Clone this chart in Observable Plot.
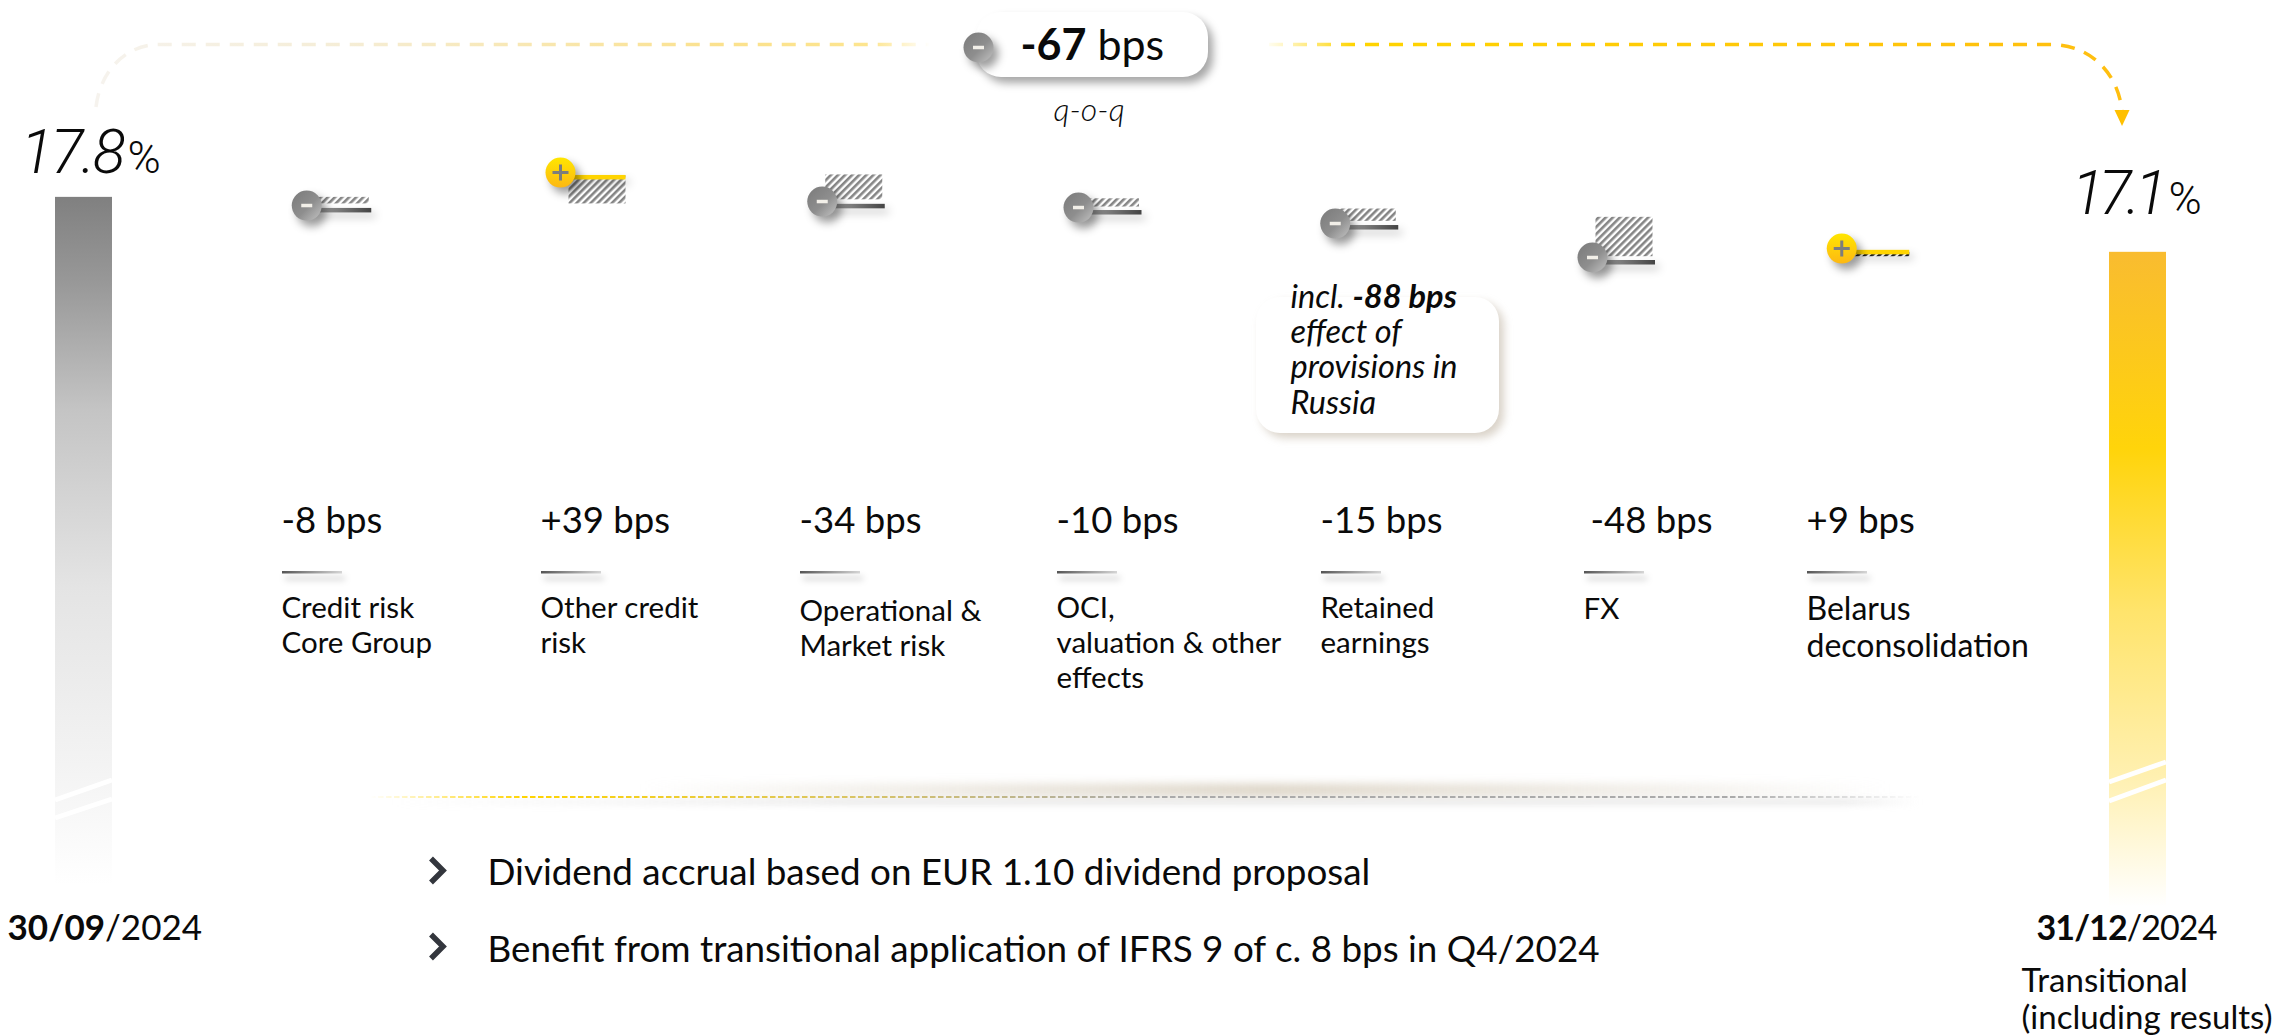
<!DOCTYPE html>
<html><head><meta charset="utf-8">
<script src="https://cdn.jsdelivr.net/npm/d3@7"></script>
<script src="https://cdn.jsdelivr.net/npm/@observablehq/plot@0.6"></script>
<style>
html,body{margin:0;padding:0;background:#fff}
svg{display:block;max-width:none!important}
.sh{filter:drop-shadow(5px 6px 4px rgba(0,0,0,.38))}
.sh2{filter:drop-shadow(4px 5px 4px rgba(0,0,0,.22))}
.tight{letter-spacing:-2.5px}
.tighter{letter-spacing:-5.5px}
.tight2{letter-spacing:-.9px}
</style></head><body><div id="c"></div>
<script>
// ---- values ----
const startKey = "30/09/2024", endKey = "31/12/2024";
const drivers = ["Credit risk","Other credit risk","Operational & Market risk","OCI, valuation & other effects","Retained earnings","FX","Belarus deconsolidation"];
const deltas = [-8, 39, -34, -10, -15, -48, 9];
const startBps = 1780;          // 17.8 %
const axisFloorBps = 915;       // broken axis: the two totals fade out here
const deltaLabels = ["-8 bps","+39 bps","-34 bps","-10 bps","-15 bps","-48 bps","+9 bps"];
const driverLines = ["Credit risk\nCore Group","Other credit\nrisk","Operational &\nMarket risk","OCI,\nvaluation & other\neffects","Retained\nearnings","FX","Belarus\ndeconsolidation"];
const bullets = ["Dividend accrual based on EUR 1.10 dividend proposal","Benefit from transitional application of IFRS 9 of c. 8 bps in Q4/2024"];

// ---- derived table ----
let level = startBps;
const steps = drivers.map((key,i)=>{const from=level; level+=deltas[i]; return {key,from,to:level,delta:deltas[i]};});
const endBps = level;
const totals = [{key:startKey,value:startBps,fill:"url(#gTotalGrey)"},{key:endKey,value:endBps,fill:"url(#gTotalGold)"}];

// ---- layout tweaks (pixels) ----
const stepStyle = [
 {hatchDy:0, lineDy:4.5,dotDy:1.6,insetTop:0,dotDx:-34},
 {hatchDy:0, lineDy:3.5,dotDy:.6, insetTop:4,dotDx:-37},
 {hatchDy:0, lineDy:4.5,dotDy:1.7,insetTop:3,dotDx:-32},
 {hatchDy:-1,lineDy:2.5,dotDy:-.5,insetTop:0,dotDx:-32.5},
 {hatchDy:1, lineDy:5.2,dotDy:3.2,insetTop:0,dotDx:-32.5},
 {hatchDy:-3,lineDy:.8, dotDy:-2.2,insetTop:0,dotDx:-32},
 {hatchDy:-3,lineDy:-2, dotDy:-3.8,insetTop:3,dotDx:-39.5}];
const textX = [282,541,800,1057,1321,1584,1807];
const font = "Lato, 'Noto Sans', sans-serif";
const numFont = "Roboto, Lato, sans-serif";

function T(text,x,base,o={}){
  return Plot.text([text],{text:d=>d,frameAnchor:"top-left",dx:x,dy:base,lineAnchor:"bottom",textAnchor:"start",
    fontFamily:font,fill:"#0a0a0a",fontSize:28,...o});
}
const ns="http://www.w3.org/2000/svg";
function S(tag,attrs={},style){const e=document.createElementNS(ns,tag);for(const k in attrs)e.setAttribute(k,attrs[k]);if(style)e.setAttribute("style",style);return e;}
function G(...kids){const g=S("g");kids.forEach(k=>g.appendChild(k));return g;}

const defs = ()=>{const d=S("defs");d.innerHTML=`
<linearGradient id="gTotalGrey" x1="0" y1="0" x2="0" y2="1">
 <stop offset="0" stop-color="#808080"/><stop offset=".12" stop-color="#989898"/><stop offset=".3" stop-color="#c4c4c4"/><stop offset=".55" stop-color="#e4e4e4"/><stop offset=".8" stop-color="#f3f3f3"/><stop offset=".97" stop-color="#ffffff"/></linearGradient>
<linearGradient id="gTotalGold" x1="0" y1="0" x2="0" y2="1">
 <stop offset="0" stop-color="#f9bc30"/><stop offset=".3" stop-color="#ffd40a"/><stop offset=".55" stop-color="#ffe46c"/><stop offset=".8" stop-color="#fff0b0"/><stop offset="1" stop-color="#ffffff"/></linearGradient>
<linearGradient id="gLine" x1="0" y1="0" x2="1" y2="0"><stop offset="0" stop-color="#a8a8a8"/><stop offset="1" stop-color="#444"/></linearGradient>
<linearGradient id="gMinus" x1="0" y1="0" x2="1" y2="1"><stop offset="0" stop-color="#7a7a7a"/><stop offset=".55" stop-color="#8e8e8e"/><stop offset="1" stop-color="#c4c4c4"/></linearGradient>
<linearGradient id="gPlus" x1="0" y1="0" x2="0" y2="1"><stop offset="0" stop-color="#ffe600"/><stop offset="1" stop-color="#fdb813"/></linearGradient>
<linearGradient id="gRule" x1="0" y1="0" x2="1" y2="0"><stop offset="0" stop-color="#555"/><stop offset="1" stop-color="#d5d5d5"/></linearGradient>
<pattern id="hatch" width="5" height="5" patternUnits="userSpaceOnUse" patternTransform="rotate(45)"><rect width="5" height="5" fill="#fff"/><rect width="2.6" height="5" fill="#858585"/></pattern>
<pattern id="hatchDark" width="5" height="5" patternUnits="userSpaceOnUse" patternTransform="rotate(45)"><rect width="5" height="5" fill="#fff"/><rect width="2.8" height="5" fill="#1c1c1c"/></pattern>
<linearGradient id="gArcL" gradientUnits="userSpaceOnUse" x1="96" y1="0" x2="930" y2="0"><stop offset="0" stop-color="#f6f3ee"/><stop offset=".3" stop-color="#f5edd6"/><stop offset=".75" stop-color="#fbe18d"/><stop offset=".93" stop-color="#fde58f"/><stop offset="1" stop-color="#fff"/></linearGradient>
<linearGradient id="gArcR" gradientUnits="userSpaceOnUse" x1="1269" y1="0" x2="2122" y2="0"><stop offset="0" stop-color="#fffdf0"/><stop offset=".1" stop-color="#ffd400"/><stop offset="1" stop-color="#ffbe10"/></linearGradient>
<linearGradient id="gDiv" gradientUnits="userSpaceOnUse" x1="370" y1="0" x2="1920" y2="0"><stop offset="0" stop-color="#fff"/><stop offset=".1" stop-color="#ffd400"/><stop offset=".3" stop-color="#dcc660"/><stop offset=".5" stop-color="#aaa"/><stop offset=".88" stop-color="#aaa"/><stop offset="1" stop-color="#fff"/></linearGradient>
<linearGradient id="gGlow" x1="0" y1="0" x2="1" y2="0"><stop offset="0" stop-color="#cfc4b0" stop-opacity="0"/><stop offset=".5" stop-color="#cfc4b0" stop-opacity=".75"/><stop offset="1" stop-color="#cfc4b0" stop-opacity="0"/></linearGradient>
<linearGradient id="gUnder" x1="0" y1="0" x2="1" y2="0"><stop offset="0" stop-color="#ccc" stop-opacity="0"/><stop offset=".3" stop-color="#ccc" stop-opacity=".4"/><stop offset=".95" stop-color="#ccc" stop-opacity=".4"/><stop offset="1" stop-color="#ccc" stop-opacity="0"/></linearGradient>`;return d;};

// connector arcs
const arcs = ()=>{
  const base={fill:"none","stroke-width":3.5,"stroke-dasharray":"14 10"};
  const a=d3.path();a.moveTo(96,107);a.bezierCurveTo(100,72,125,44.5,159,44.5);a.lineTo(930,44.5);
  const b=d3.path();b.moveTo(1269,44.5);b.lineTo(2050,44.5);b.bezierCurveTo(2092,44.5,2119,75,2122,112);
  return G(S("path",{...base,d:a.toString(),stroke:"url(#gArcL)"}),S("path",{...base,d:b.toString(),stroke:"url(#gArcR)"}),
    S("path",{d:"M2122,126L2114.5,110L2129.5,110Z",fill:"#ffc000"}));
};
// white break slashes over the total bars
const breaks = (i,{x})=>{
  const g=S("g"),bw=x.bandwidth();
  [[startKey,800,780],[startKey,818,799],[endKey,782,762],[endKey,801,780]].forEach(([k,a,b])=>
    g.appendChild(S("line",{x1:x(k),x2:x(k)+bw,y1:a,y2:b,stroke:"#fff","stroke-width":5})));
  return g;
};
const badge = ()=>S("rect",{x:976,y:12,width:232,height:65,rx:25,fill:"#fff"},"filter:drop-shadow(5px 6px 4px rgba(0,0,0,.35))");
const callout = ()=>S("rect",{x:1256,y:297,width:243,height:136,rx:24,fill:"#fff"},"filter:drop-shadow(5px 5px 4px rgba(150,130,100,.35))");
const rules = ()=>{const g=S("g");textX.forEach(x=>g.appendChild(S("rect",{x,y:571,width:60,height:2.5,fill:"url(#gRule)"},"filter:drop-shadow(3px 6px 3px rgba(0,0,0,.25))")));return g;};
const divider = ()=>G(
  S("rect",{x:640,y:784,width:1250,height:12,fill:"url(#gGlow)"},"filter:blur(5px)"),
  S("rect",{x:390,y:799,width:1530,height:6,fill:"url(#gUnder)"},"filter:blur(3px)"),
  S("line",{x1:370,x2:1920,y1:797,y2:797,stroke:"url(#gDiv)","stroke-width":2,"stroke-dasharray":"5.5 2.5"}));
const chevrons = ()=>{const g=S("g");[870.5,946.5].forEach(y=>g.appendChild(S("path",{d:`M431,${y-12}L443,${y}L431,${y+12}`,fill:"none",stroke:"#33363d","stroke-width":5.5})));return g;};

const minusSym={draw(c,s){const r=Math.sqrt(s/Math.PI);c.moveTo(-r,0);c.lineTo(r,0);}};
const plusSym={draw(c,s){const r=Math.sqrt(s/Math.PI);c.moveTo(-r,0);c.lineTo(r,0);c.moveTo(0,-r);c.lineTo(0,r);}};

const isUp=d=>d.delta>0;
const stepMarks = steps.flatMap((d,i)=>{
  const st=stepStyle[i],up=isUp(d);
  const hatch=i===6?"url(#hatchDark)":"url(#hatch)";
  const dot={x:"key",y:"to",dx:st.dotDx,dy:st.dotDy};
  return [
    Plot.barY([d],{x:"key",y1:"from",y2:"to",fill:hatch,dy:st.hatchDy,insetTop:st.insetTop}),
    Plot.barY([d],{x:"key",y1:"to",y2:e=>e.to-5.5,fill:up?"#ffd400":"url(#gLine)",dy:st.lineDy,insetRight:up?0:-2.5,className:"sh2"}),
    Plot.dot([d],{...dot,r:15,fill:up?"url(#gPlus)":"url(#gMinus)",className:"sh"}),
    Plot.dot([d],{...dot,r:up?8:5.5,symbol:up?plusSym:minusSym,stroke:up?"#7d7d7d":"#f2efe8",strokeWidth:up?3:3.5})
  ];
});

const bigDigits={fontFamily:numFont,fontStyle:"italic",fontWeight:300};
const bigPct={fontFamily:numFont,fontWeight:300,fontSize:45};
const textMarks = [
  T("17.8",20,172,{fontSize:61,...bigDigits,className:"tight"}),
  T("%",127,172,bigPct),
  T("17.1",2071,213,{fontSize:61,...bigDigits,className:"tighter"}),
  T("%",2168,213,bigPct),
  T("**-67** bps",1020,59,{fontSize:43}),
  T("q-o-q",1053,120,{fontSize:32,fontStyle:"italic",fontWeight:300}),
  T("incl. **-88 bps**\neffect of\nprovisions in\nRussia",1290,413,{fontSize:32.5,fontStyle:"italic",lineHeight:1.08}),
  T("**30/09**/2024",7,939,{fontSize:35}),
  T("**31/12**/2024",2036,939,{fontSize:34,className:"tight2"}),
  T("Transitional\n(including results)",2021,1028,{fontSize:33,lineHeight:1.12}),
  ...deltaLabels.map((t,i)=>T(t,(i===5?1591:textX[i])-1,532,{fontSize:36.5})),
  ...driverLines.map((t,i)=>{
    const n=t.split("\n").length;
    if(i===6)return T(t,textX[i]-1,656,{fontSize:32,lineHeight:1.15});
    const first=[617,617,620,617,617,618,620][i];
    return T(t,textX[i]-1,first+(n-1)*35,{fontSize:29.5,lineHeight:35/29.5});}),
  ...bullets.map((t,i)=>T(t,487,[884,961][i],{fontSize:36.8}))
];

const plot = Plot.plot({
  width:2276,height:1036,margin:0,
  style:{background:"#fff"},
  x:{type:"band",domain:[startKey,...drivers,endKey],range:[83.5-128.375,2137.5+128.375],paddingInner:.778,paddingOuter:.389,round:false,axis:null},
  y:{domain:[757,2020],range:[1036,0],axis:null},
  marks:[
    defs,
    arcs,
    Plot.barY(totals,{x:"key",y1:axisFloorBps,y2:"value",fill:"fill"}),
    breaks,
    divider,
    rules,
    chevrons,
    ...stepMarks,
    badge,
    callout,
    Plot.dot([{key:"-67"}],{frameAnchor:"top-left",dx:978,dy:47,r:15,fill:"url(#gMinus)",className:"sh"}),
    Plot.dot([{key:"-67"}],{frameAnchor:"top-left",dx:978,dy:47,r:5.5,symbol:minusSym,stroke:"#f2efe8",strokeWidth:3.5}),
    ...textMarks
  ]
});
// mixed bold/regular runs: **bold** becomes a tspan
plot.querySelectorAll("text, text tspan").forEach(n=>{
  if(n.children.length||!n.textContent.includes("**"))return;
  const parts=n.textContent.split("**");n.textContent="";
  parts.forEach((p,i)=>{if(!p)return;const t=document.createElementNS(ns,"tspan");t.textContent=p;if(i%2)t.setAttribute("font-weight","700");n.appendChild(t);});
});
document.getElementById("c").appendChild(plot);
</script></body></html>
